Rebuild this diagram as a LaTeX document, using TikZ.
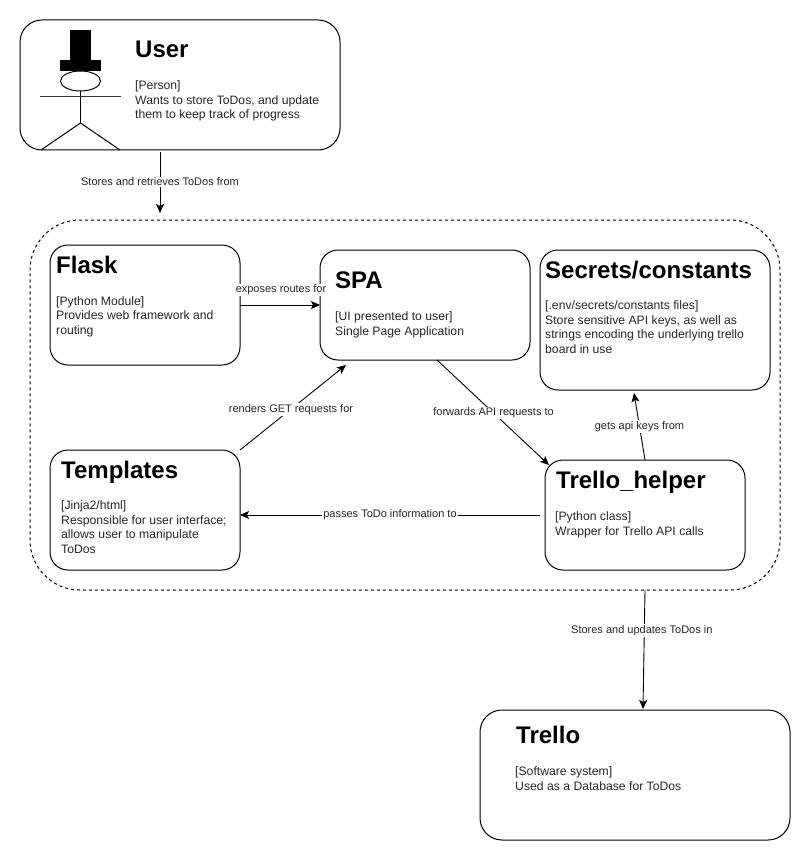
\documentclass[tikz,border=0pt]{standalone}
\usepackage{fontspec}
\setmainfont{Liberation Sans}
\usetikzlibrary{arrows.meta}
\tikzset{
  x=1pt,y=-1pt,
  box/.style={draw=black,line width=1pt,rounded corners=#1,fill=white,inner sep=0pt,outer sep=0pt,anchor=north west},
  box/.default=18pt,
  ttl/.style={anchor=base west,inner sep=0pt,font=\fontsize{24}{24}\selectfont\bfseries,text=black},
  bdy/.style={anchor=base west,inner sep=0pt,font=\fontsize{12.2}{14.5}\selectfont,text=black!85,align=left},
  lbl/.style={font=\fontsize{11}{12}\selectfont,fill=white,inner sep=1pt,text=black!85},
  conn/.style={draw=black,line width=.9pt,-{Stealth[length=9pt,width=8pt,inset=2pt]}},
  fig/.style={draw=black,line width=1pt}
}
\begin{document}
\begin{tikzpicture}
\useasboundingbox (0,0) rectangle (811,861);
\fill[white] (0,0) rectangle (811,861);
% boxes
\node[box=50pt,dashed,minimum width=750pt,minimum height=370pt] (group) at (30,220) {};
\node[box=22pt,minimum width=320pt,minimum height=130pt] (user) at (20,20) {};
\node[box,minimum width=190pt,minimum height=120pt] (flask) at (50,245) {};
\node[box,minimum width=210pt,minimum height=110pt] (spa) at (320,250) {};
\node[box,minimum width=230pt,minimum height=140pt] (secrets) at (540,250) {};
\node[box,minimum width=190pt,minimum height=120pt] (templates) at (50,450) {};
\node[box,minimum width=200pt,minimum height=110pt] (helper) at (545,460) {};
\node[box=22pt,minimum width=310pt,minimum height=130pt] (trello) at (480,710) {};
% stick figure
\node[fill=black,minimum width=21pt,minimum height=30pt,inner sep=0pt,outer sep=0pt,anchor=north west] (hat) at (70,30) {};
\node[fill=black,minimum width=41pt,minimum height=11pt,inner sep=0pt,outer sep=0pt,anchor=north west] (brim) at (60,60) {};
\draw[fig] (80.5,81) ellipse (20 and 10);
\draw[fig] (80.5,91) -- (80.5,123);
\draw[fig,black!80] (40,97) -- (121,97);
\draw[fig,line join=bevel] (41,150) -- (80.5,123) -- (120,150);
% texts (anchored on the baseline of the last line)
\node[ttl] (t1) at (135,58) {User};
\node[bdy] (b1) at (135,119) {[Person]\\Wants to store ToDos, and update\\them to keep track of progress};
\node[ttl] (t2) at (56,273) {Flask};
\node[bdy] (b2) at (56,334) {[Python Module]\\Provides web framework and\\routing};
\node[ttl] (t3) at (335,288) {SPA};
\node[bdy] (b3) at (335,335) {[UI presented to user]\\Single Page Application};
\node[ttl] (t4) at (545,278) {Secrets/constants};
\node[bdy] (b4) at (545,353) {[.env/secrets/constants files]\\Store sensitive API keys, as well as\\strings encoding the underlying trello\\board in use};
\node[ttl] (t5) at (61,478) {Templates};
\node[bdy] (b5) at (61,553) {[Jinja2/html]\\Responsible for user interface;\\allows user to manipulate\\ToDos};
\node[ttl] (t6) at (556,488) {Trello\_helper};
\node[bdy] (b6) at (555,535) {[Python class]\\Wrapper for Trello API calls};
\node[ttl] (t7) at (516,743) {Trello};
\node[bdy] (b7) at (515,790) {[Software system]\\Used as a Database for ToDos};
% connector ends
\coordinate (u1) at (160,152);
\coordinate (u2) at (160,213);
\coordinate (sp1) at (346,365);
\coordinate (te1) at (240,450);
\coordinate (sp2) at (437,360);
\coordinate (he1) at (549,465);
\coordinate (he2) at (645,460);
\coordinate (se1) at (634,393);
\coordinate (he3) at (540,515);
\coordinate (te2) at (240,515);
\coordinate (gr1) at (645,590);
\coordinate (tr1) at (643,709);
% connectors
\draw[conn] (u1) -- node[lbl,pos=.49] (l1) {Stores and retrieves ToDos from} (u2);
\draw[conn] (flask.east) -- (spa.west);
\node[lbl,fill=white] (l2) at (281,290) {exposes routes for};
\draw[conn] (te1) -- node[lbl,pos=.5,xshift=-2pt,yshift=-2pt] (l3) {renders GET requests for} (sp1);
\draw[conn] (sp2) -- node[lbl,pos=.505] (l4) {forwards API requests to} (he1);
\draw[conn] (he2) -- node[lbl,pos=.5] (l5) {gets api keys from} (se1);
\draw[conn] (he3) -- node[lbl,pos=.5] (l6) {passes ToDo information to} (te2);
\draw[conn] (gr1) -- node[lbl,pos=.34,xshift=-2.5pt] (l7) {Stores and updates ToDos in} (tr1);
\end{tikzpicture}
\end{document}
